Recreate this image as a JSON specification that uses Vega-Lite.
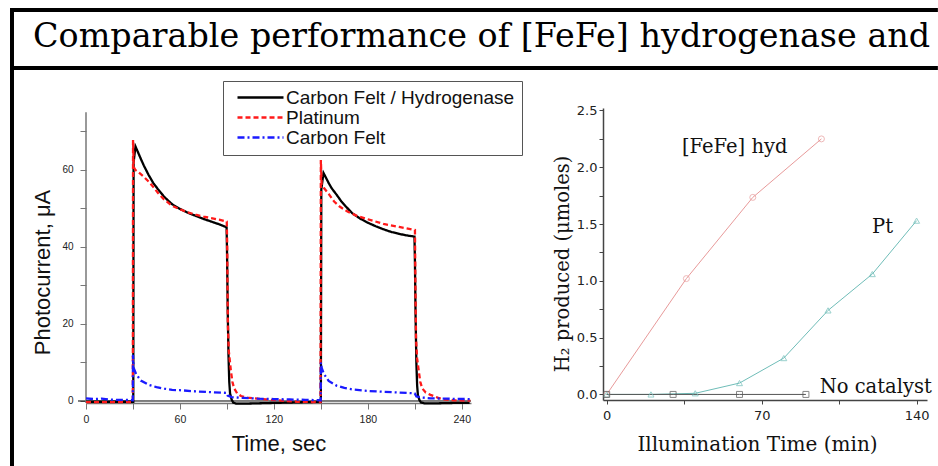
{
  "$schema": "https://vega.github.io/schema/vega-lite/v6.json",
  "padding": {"left": 10, "top": 8, "right": 0, "bottom": 0},
  "autosize": {"type": "pad"},
  "background": "white",
  "bounds": "flush",
  "spacing": 132,
  "resolve": {
    "scale": {"color": "independent", "strokeDash": "independent", "shape": "independent"},
    "legend": {"color": "independent", "strokeDash": "independent", "shape": "independent"}
  },
  "datasets": {
    "photo": [
      {"t": 0, "uA": -0.2, "series": "Carbon Felt / Hydrogenase"},
      {"t": 10, "uA": -0.2, "series": "Carbon Felt / Hydrogenase"},
      {"t": 20, "uA": -0.2, "series": "Carbon Felt / Hydrogenase"},
      {"t": 30.2, "uA": -0.2, "series": "Carbon Felt / Hydrogenase"},
      {"t": 30.4, "uA": 62, "series": "Carbon Felt / Hydrogenase"},
      {"t": 31.6, "uA": 66.1, "series": "Carbon Felt / Hydrogenase"},
      {"t": 33, "uA": 64.8, "series": "Carbon Felt / Hydrogenase"},
      {"t": 35, "uA": 62.9, "series": "Carbon Felt / Hydrogenase"},
      {"t": 37, "uA": 61.1, "series": "Carbon Felt / Hydrogenase"},
      {"t": 40, "uA": 58.7, "series": "Carbon Felt / Hydrogenase"},
      {"t": 43, "uA": 56.6, "series": "Carbon Felt / Hydrogenase"},
      {"t": 46, "uA": 55.0, "series": "Carbon Felt / Hydrogenase"},
      {"t": 50, "uA": 53.0, "series": "Carbon Felt / Hydrogenase"},
      {"t": 55, "uA": 51.1, "series": "Carbon Felt / Hydrogenase"},
      {"t": 60, "uA": 49.9, "series": "Carbon Felt / Hydrogenase"},
      {"t": 65, "uA": 48.9, "series": "Carbon Felt / Hydrogenase"},
      {"t": 70, "uA": 48.1, "series": "Carbon Felt / Hydrogenase"},
      {"t": 75, "uA": 47.3, "series": "Carbon Felt / Hydrogenase"},
      {"t": 80, "uA": 46.6, "series": "Carbon Felt / Hydrogenase"},
      {"t": 85, "uA": 45.9, "series": "Carbon Felt / Hydrogenase"},
      {"t": 89.8, "uA": 45.1, "series": "Carbon Felt / Hydrogenase"},
      {"t": 90.1, "uA": 38, "series": "Carbon Felt / Hydrogenase"},
      {"t": 90.5, "uA": 24, "series": "Carbon Felt / Hydrogenase"},
      {"t": 91, "uA": 12, "series": "Carbon Felt / Hydrogenase"},
      {"t": 91.5, "uA": 5, "series": "Carbon Felt / Hydrogenase"},
      {"t": 92, "uA": 2, "series": "Carbon Felt / Hydrogenase"},
      {"t": 93, "uA": 0.4, "series": "Carbon Felt / Hydrogenase"},
      {"t": 94, "uA": -0.4, "series": "Carbon Felt / Hydrogenase"},
      {"t": 96, "uA": -0.7, "series": "Carbon Felt / Hydrogenase"},
      {"t": 100, "uA": -0.7, "series": "Carbon Felt / Hydrogenase"},
      {"t": 110, "uA": -0.6, "series": "Carbon Felt / Hydrogenase"},
      {"t": 120, "uA": -0.5, "series": "Carbon Felt / Hydrogenase"},
      {"t": 130, "uA": -0.4, "series": "Carbon Felt / Hydrogenase"},
      {"t": 140, "uA": -0.3, "series": "Carbon Felt / Hydrogenase"},
      {"t": 150, "uA": -0.2, "series": "Carbon Felt / Hydrogenase"},
      {"t": 150.3, "uA": 55, "series": "Carbon Felt / Hydrogenase"},
      {"t": 151.7, "uA": 59.2, "series": "Carbon Felt / Hydrogenase"},
      {"t": 153, "uA": 58.2, "series": "Carbon Felt / Hydrogenase"},
      {"t": 155, "uA": 56.6, "series": "Carbon Felt / Hydrogenase"},
      {"t": 157, "uA": 55.2, "series": "Carbon Felt / Hydrogenase"},
      {"t": 160, "uA": 53.6, "series": "Carbon Felt / Hydrogenase"},
      {"t": 163, "uA": 51.9, "series": "Carbon Felt / Hydrogenase"},
      {"t": 166, "uA": 50.5, "series": "Carbon Felt / Hydrogenase"},
      {"t": 170, "uA": 48.8, "series": "Carbon Felt / Hydrogenase"},
      {"t": 175, "uA": 47.4, "series": "Carbon Felt / Hydrogenase"},
      {"t": 180, "uA": 46.3, "series": "Carbon Felt / Hydrogenase"},
      {"t": 185, "uA": 45.4, "series": "Carbon Felt / Hydrogenase"},
      {"t": 190, "uA": 44.6, "series": "Carbon Felt / Hydrogenase"},
      {"t": 195, "uA": 43.9, "series": "Carbon Felt / Hydrogenase"},
      {"t": 200, "uA": 43.4, "series": "Carbon Felt / Hydrogenase"},
      {"t": 205, "uA": 43.0, "series": "Carbon Felt / Hydrogenase"},
      {"t": 209.8, "uA": 42.7, "series": "Carbon Felt / Hydrogenase"},
      {"t": 210.1, "uA": 36, "series": "Carbon Felt / Hydrogenase"},
      {"t": 210.5, "uA": 22, "series": "Carbon Felt / Hydrogenase"},
      {"t": 211, "uA": 10, "series": "Carbon Felt / Hydrogenase"},
      {"t": 211.5, "uA": 4, "series": "Carbon Felt / Hydrogenase"},
      {"t": 212, "uA": 1.5, "series": "Carbon Felt / Hydrogenase"},
      {"t": 213, "uA": 0.2, "series": "Carbon Felt / Hydrogenase"},
      {"t": 214, "uA": -0.4, "series": "Carbon Felt / Hydrogenase"},
      {"t": 216, "uA": -0.6, "series": "Carbon Felt / Hydrogenase"},
      {"t": 225, "uA": -0.6, "series": "Carbon Felt / Hydrogenase"},
      {"t": 235, "uA": -0.5, "series": "Carbon Felt / Hydrogenase"},
      {"t": 245, "uA": -0.5, "series": "Carbon Felt / Hydrogenase"},

      {"t": 0, "uA": -0.3, "series": "Platinum"},
      {"t": 10, "uA": -0.3, "series": "Platinum"},
      {"t": 20, "uA": -0.3, "series": "Platinum"},
      {"t": 29.9, "uA": -0.3, "series": "Platinum"},
      {"t": 30.05, "uA": 67.8, "series": "Platinum"},
      {"t": 30.5, "uA": 60.8, "series": "Platinum"},
      {"t": 31.5, "uA": 60.0, "series": "Platinum"},
      {"t": 33, "uA": 59.6, "series": "Platinum"},
      {"t": 35, "uA": 58.9, "series": "Platinum"},
      {"t": 37, "uA": 58.2, "series": "Platinum"},
      {"t": 40, "uA": 57.0, "series": "Platinum"},
      {"t": 43, "uA": 55.6, "series": "Platinum"},
      {"t": 46, "uA": 54.0, "series": "Platinum"},
      {"t": 50, "uA": 52.3, "series": "Platinum"},
      {"t": 55, "uA": 50.7, "series": "Platinum"},
      {"t": 60, "uA": 49.8, "series": "Platinum"},
      {"t": 65, "uA": 49.0, "series": "Platinum"},
      {"t": 70, "uA": 48.4, "series": "Platinum"},
      {"t": 75, "uA": 47.9, "series": "Platinum"},
      {"t": 80, "uA": 47.5, "series": "Platinum"},
      {"t": 85, "uA": 47.1, "series": "Platinum"},
      {"t": 89.9, "uA": 46.6, "series": "Platinum"},
      {"t": 90.2, "uA": 40, "series": "Platinum"},
      {"t": 90.6, "uA": 20, "series": "Platinum"},
      {"t": 91.2, "uA": 13, "series": "Platinum"},
      {"t": 92.5, "uA": 8, "series": "Platinum"},
      {"t": 93.5, "uA": 5, "series": "Platinum"},
      {"t": 94.6, "uA": 3.3, "series": "Platinum"},
      {"t": 96.5, "uA": 2, "series": "Platinum"},
      {"t": 99, "uA": 1.3, "series": "Platinum"},
      {"t": 103, "uA": 0.9, "series": "Platinum"},
      {"t": 107, "uA": 0.7, "series": "Platinum"},
      {"t": 115, "uA": 0.4, "series": "Platinum"},
      {"t": 125, "uA": 0.1, "series": "Platinum"},
      {"t": 135, "uA": -0.2, "series": "Platinum"},
      {"t": 149.8, "uA": -0.3, "series": "Platinum"},
      {"t": 150.0, "uA": 62.6, "series": "Platinum"},
      {"t": 150.5, "uA": 56.3, "series": "Platinum"},
      {"t": 152, "uA": 55.3, "series": "Platinum"},
      {"t": 155, "uA": 53.8, "series": "Platinum"},
      {"t": 158.5, "uA": 51.8, "series": "Platinum"},
      {"t": 162, "uA": 50.5, "series": "Platinum"},
      {"t": 167, "uA": 49.2, "series": "Platinum"},
      {"t": 173, "uA": 48.1, "series": "Platinum"},
      {"t": 180, "uA": 47.2, "series": "Platinum"},
      {"t": 190, "uA": 46.0, "series": "Platinum"},
      {"t": 200, "uA": 45.2, "series": "Platinum"},
      {"t": 210.1, "uA": 44.4, "series": "Platinum"},
      {"t": 210.4, "uA": 30, "series": "Platinum"},
      {"t": 210.8, "uA": 16, "series": "Platinum"},
      {"t": 211.5, "uA": 11, "series": "Platinum"},
      {"t": 212.6, "uA": 7.6, "series": "Platinum"},
      {"t": 213.5, "uA": 5, "series": "Platinum"},
      {"t": 214.7, "uA": 3.3, "series": "Platinum"},
      {"t": 217, "uA": 2.2, "series": "Platinum"},
      {"t": 220, "uA": 1.6, "series": "Platinum"},
      {"t": 225, "uA": 0.8, "series": "Platinum"},
      {"t": 228.6, "uA": 0.4, "series": "Platinum"},
      {"t": 235, "uA": 0.2, "series": "Platinum"},
      {"t": 245.5, "uA": 0.1, "series": "Platinum"},

      {"t": 0, "uA": 0.7, "series": "Carbon Felt"},
      {"t": 5, "uA": 0.5, "series": "Carbon Felt"},
      {"t": 10, "uA": 0.6, "series": "Carbon Felt"},
      {"t": 15, "uA": 0.4, "series": "Carbon Felt"},
      {"t": 20, "uA": 0.3, "series": "Carbon Felt"},
      {"t": 25, "uA": 0.3, "series": "Carbon Felt"},
      {"t": 29.9, "uA": 0.2, "series": "Carbon Felt"},
      {"t": 30.0, "uA": 12.0, "series": "Carbon Felt"},
      {"t": 30.5, "uA": 8.5, "series": "Carbon Felt"},
      {"t": 32, "uA": 7.0, "series": "Carbon Felt"},
      {"t": 35, "uA": 5.3, "series": "Carbon Felt"},
      {"t": 40, "uA": 4.2, "series": "Carbon Felt"},
      {"t": 45, "uA": 3.6, "series": "Carbon Felt"},
      {"t": 50, "uA": 3.2, "series": "Carbon Felt"},
      {"t": 55, "uA": 2.9, "series": "Carbon Felt"},
      {"t": 60, "uA": 2.8, "series": "Carbon Felt"},
      {"t": 70, "uA": 2.5, "series": "Carbon Felt"},
      {"t": 80, "uA": 2.3, "series": "Carbon Felt"},
      {"t": 89.9, "uA": 2.1, "series": "Carbon Felt"},
      {"t": 90.5, "uA": 1.4, "series": "Carbon Felt"},
      {"t": 93, "uA": 1.0, "series": "Carbon Felt"},
      {"t": 100, "uA": 0.8, "series": "Carbon Felt"},
      {"t": 110, "uA": 0.6, "series": "Carbon Felt"},
      {"t": 120, "uA": 0.5, "series": "Carbon Felt"},
      {"t": 130, "uA": 0.4, "series": "Carbon Felt"},
      {"t": 140, "uA": 0.3, "series": "Carbon Felt"},
      {"t": 149.9, "uA": 0.2, "series": "Carbon Felt"},
      {"t": 150.0, "uA": 10.0, "series": "Carbon Felt"},
      {"t": 150.6, "uA": 8.5, "series": "Carbon Felt"},
      {"t": 152, "uA": 7.0, "series": "Carbon Felt"},
      {"t": 155, "uA": 5.2, "series": "Carbon Felt"},
      {"t": 160, "uA": 4.0, "series": "Carbon Felt"},
      {"t": 165, "uA": 3.4, "series": "Carbon Felt"},
      {"t": 170, "uA": 3.0, "series": "Carbon Felt"},
      {"t": 180, "uA": 2.6, "series": "Carbon Felt"},
      {"t": 190, "uA": 2.4, "series": "Carbon Felt"},
      {"t": 200, "uA": 2.2, "series": "Carbon Felt"},
      {"t": 209.9, "uA": 2.0, "series": "Carbon Felt"},
      {"t": 211, "uA": 1.2, "series": "Carbon Felt"},
      {"t": 215, "uA": 0.9, "series": "Carbon Felt"},
      {"t": 220, "uA": 0.7, "series": "Carbon Felt"},
      {"t": 230, "uA": 0.6, "series": "Carbon Felt"},
      {"t": 245.5, "uA": 0.5, "series": "Carbon Felt"}
    ],
    "h2": [
      {"min": 0, "umol": 0, "catalyst": "[FeFe] hyd"},
      {"min": 36, "umol": 1.02, "catalyst": "[FeFe] hyd"},
      {"min": 66, "umol": 1.735, "catalyst": "[FeFe] hyd"},
      {"min": 97, "umol": 2.25, "catalyst": "[FeFe] hyd"},
      {"min": 0, "umol": 0, "catalyst": "Pt"},
      {"min": 20, "umol": 0, "catalyst": "Pt"},
      {"min": 40, "umol": 0.01, "catalyst": "Pt"},
      {"min": 60, "umol": 0.1, "catalyst": "Pt"},
      {"min": 80, "umol": 0.32, "catalyst": "Pt"},
      {"min": 100, "umol": 0.74, "catalyst": "Pt"},
      {"min": 120, "umol": 1.06, "catalyst": "Pt"},
      {"min": 140, "umol": 1.53, "catalyst": "Pt"},
      {"min": 0, "umol": 0, "catalyst": "No catalyst"},
      {"min": 30, "umol": 0, "catalyst": "No catalyst"},
      {"min": 60, "umol": 0, "catalyst": "No catalyst"},
      {"min": 90, "umol": 0, "catalyst": "No catalyst"}
    ],
    "notes": [
      {"label": "[FeFe] hyd", "min": 34.0, "umol": 2.123},
      {"label": "Pt", "min": 119.9, "umol": 1.418},
      {"label": "No catalyst", "min": 96.2, "umol": 0.01}
    ]
  },
  "hconcat": [
    {
      "width": 385,
      "height": 295,
      "layer": [
        {
          "description": "frame: left bar",
          "data": {"values": [{}]},
          "mark": {"type": "rect", "color": "black"},
          "encoding": {
            "x": {"datum": -48.54, "type": "quantitative"},
            "x2": {"datum": -45.99},
            "y": {"datum": 102.07, "type": "quantitative"},
            "y2": {"datum": -16.87}
          }
        },
        {
          "description": "frame: top bar",
          "data": {"values": [{}]},
          "mark": {"type": "rect", "color": "black"},
          "encoding": {
            "x": {"datum": -48.54, "type": "quantitative"},
            "x2": {"datum": 544.1},
            "y": {"datum": 102.07, "type": "quantitative"},
            "y2": {"datum": 101.03}
          }
        },
        {
          "description": "frame: bar under the heading",
          "data": {"values": [{}]},
          "mark": {"type": "rect", "color": "black"},
          "encoding": {
            "x": {"datum": -48.54, "type": "quantitative"},
            "x2": {"datum": 544.1},
            "y": {"datum": 87.01, "type": "quantitative"},
            "y2": {"datum": 85.97}
          }
        },
        {
          "description": "heading",
          "data": {"values": [{}]},
          "mark": {"type": "text", "align": "left", "baseline": "alphabetic", "font": "DejaVu Serif", "fontSize": 33.4, "color": "black"},
          "encoding": {
            "x": {"datum": -33.85, "type": "quantitative"},
            "y": {"datum": 91.94, "type": "quantitative"},
            "text": {"value": "Comparable performance of [FeFe] hydrogenase and"}
          }
        },
        {
          "description": "zero current line",
          "data": {"values": [{}]},
          "mark": {"type": "rule", "color": "black", "strokeWidth": 1},
          "encoding": {
            "x": {"datum": -5.1, "type": "quantitative"},
            "x2": {"datum": 245.9},
            "y": {"datum": 0, "type": "quantitative"}
          }
        },
        {
          "description": "y axis line",
          "data": {"values": [{}]},
          "mark": {"type": "rule", "color": "#777", "strokeWidth": 1.5},
          "encoding": {
            "x": {"datum": 0, "type": "quantitative"},
            "y": {"datum": -0.52, "type": "quantitative"},
            "y2": {"datum": 75}
          }
        },
        {
          "data": {"name": "photo"},
          "mark": {"type": "line", "strokeWidth": 2.3},
          "encoding": {
            "x": {
              "field": "t", "type": "quantitative",
              "scale": {"domain": [0, 245.9], "nice": false, "zero": false},
              "axis": {
                "title": "Time, sec",
                "values": [0, 30, 60, 90, 120, 150, 180, 210, 240],
                "labelExpr": "datum.value % 60 === 0 ? datum.label : ''",
                "grid": false,
                "domainColor": "#777", "domainWidth": 1.5,
                "tickColor": "#777", "tickSize": 6, "tickWidth": 1,
                "labelFont": "Liberation Sans", "labelFontSize": 10.5, "labelColor": "#222", "labelPadding": 5,
                "labelFlush": false,
                "titleFont": "Liberation Sans", "titleFontSize": 22, "titleFontWeight": "normal", "titleColor": "#111", "titlePadding": 9
              }
            },
            "y": {
              "field": "uA", "type": "quantitative",
              "scale": {"domain": [-0.52, 76.1], "nice": false, "zero": false},
              "axis": {
                "title": "Photocurrent, μA",
                "values": [0, 10, 20, 30, 40, 50, 60, 70],
                "labelExpr": "datum.value % 20 === 0 ? datum.label : ''",
                "grid": false, "domain": false,
                "tickColor": "#777", "tickSize": 6, "tickWidth": 1,
                "labelFont": "Liberation Sans", "labelFontSize": 10, "labelColor": "#222", "labelPadding": 7,
                "titleFont": "Liberation Sans", "titleFontSize": 22, "titleFontWeight": "normal", "titleColor": "#111", "titlePadding": 7,
                "titleY": 164
              }
            },
            "color": {
              "field": "series", "type": "nominal",
              "scale": {"domain": ["Carbon Felt / Hydrogenase", "Platinum", "Carbon Felt"], "range": ["#000000", "#ff1a1a", "#1a1aff"]},
              "legend": {
                "title": null, "orient": "none", "legendX": 137, "legendY": -27,
                "padding": 7, "strokeColor": "#555", "fillColor": "white",
                "labelFont": "Liberation Sans", "labelFontSize": 19, "labelColor": "#111", "labelLimit": 400,
                "symbolType": "M-4.6,0H4.6", "symbolSize": 100, "symbolStrokeWidth": 2.3,
                "symbolOffset": 21, "labelOffset": 16, "rowPadding": 0
              }
            },
            "strokeDash": {
              "field": "series", "type": "nominal",
              "scale": {"domain": ["Carbon Felt / Hydrogenase", "Platinum", "Carbon Felt"], "range": [[1, 0], [5, 3], [7, 3, 2, 3]]},
              "legend": {
                "title": null, "orient": "none", "legendX": 137, "legendY": -27,
                "padding": 7, "strokeColor": "#555", "fillColor": "white",
                "labelFont": "Liberation Sans", "labelFontSize": 19, "labelColor": "#111", "labelLimit": 400,
                "symbolType": "M-4.6,0H4.6", "symbolSize": 100, "symbolStrokeWidth": 2.3,
                "symbolOffset": 21, "labelOffset": 16, "rowPadding": 0
              }
            }
          }
        }
      ]
    },
    {
      "width": 324,
      "height": 292,
      "encoding": {
        "x": {
          "field": "min", "type": "quantitative",
          "scale": {"domain": [-1.67, 144.7], "nice": false, "zero": false},
          "axis": {
            "title": "Illumination Time (min)",
            "values": [0, 35, 70, 105, 140],
            "labelExpr": "datum.value % 70 === 0 ? datum.label : ''",
            "grid": false,
            "domainColor": "#444", "domainWidth": 1.5,
            "tickColor": "#444", "tickSize": 4, "tickWidth": 1,
            "labelFont": "DejaVu Sans", "labelFontSize": 13, "labelColor": "#222", "labelPadding": 5,
            "labelFlush": false,
            "titleFont": "DejaVu Serif", "titleFontSize": 20, "titleFontWeight": "normal", "titleColor": "#111", "titlePadding": 12,
            "titleX": 154
          }
        },
        "y": {
          "field": "umol", "type": "quantitative",
          "scale": {"domain": [-0.049, 2.522], "nice": false, "zero": false},
          "axis": {
            "title": "H₂ produced (μmoles)",
            "values": [0, 0.25, 0.5, 0.75, 1, 1.25, 1.5, 1.75, 2, 2.25, 2.5],
            "labelExpr": "(datum.value * 2) % 1 === 0 ? format(datum.value, '.1f') : ''",
            "grid": false,
            "domainColor": "#444", "domainWidth": 1.5,
            "tickColor": "#444", "tickSize": 4, "tickWidth": 1,
            "labelFont": "DejaVu Sans", "labelFontSize": 13, "labelColor": "#222", "labelPadding": 2,
            "titleFont": "DejaVu Serif", "titleFontSize": 19.5, "titleFontWeight": "normal", "titleColor": "#111", "titlePadding": 4,
            "titleY": 155.5
          }
        }
      },
      "layer": [
        {
          "data": {"name": "h2"},
          "mark": {"type": "line", "strokeWidth": 1},
          "encoding": {
            "color": {
              "field": "catalyst", "type": "nominal",
              "scale": {"domain": ["[FeFe] hyd", "Pt", "No catalyst"], "range": ["#e89a9a", "#6fbdb8", "#555555"]},
              "legend": null
            }
          }
        },
        {
          "data": {"name": "h2"},
          "mark": {"type": "point", "filled": false, "strokeWidth": 1, "size": 36},
          "encoding": {
            "color": {
              "field": "catalyst", "type": "nominal",
              "scale": {"domain": ["[FeFe] hyd", "Pt", "No catalyst"], "range": ["#e89a9a", "#6fbdb8", "#555555"]},
              "legend": null
            },
            "shape": {
              "field": "catalyst", "type": "nominal",
              "scale": {"domain": ["[FeFe] hyd", "Pt", "No catalyst"], "range": ["circle", "triangle-up", "square"]},
              "legend": null
            }
          }
        },
        {
          "data": {"name": "notes"},
          "mark": {"type": "text", "align": "left", "baseline": "alphabetic", "font": "DejaVu Serif", "fontSize": 19.5, "color": "#111"},
          "encoding": {
            "text": {"field": "label"}
          }
        }
      ]
    }
  ],
  "config": {
    "view": {"stroke": null},
    "font": "Liberation Sans"
  }
}
